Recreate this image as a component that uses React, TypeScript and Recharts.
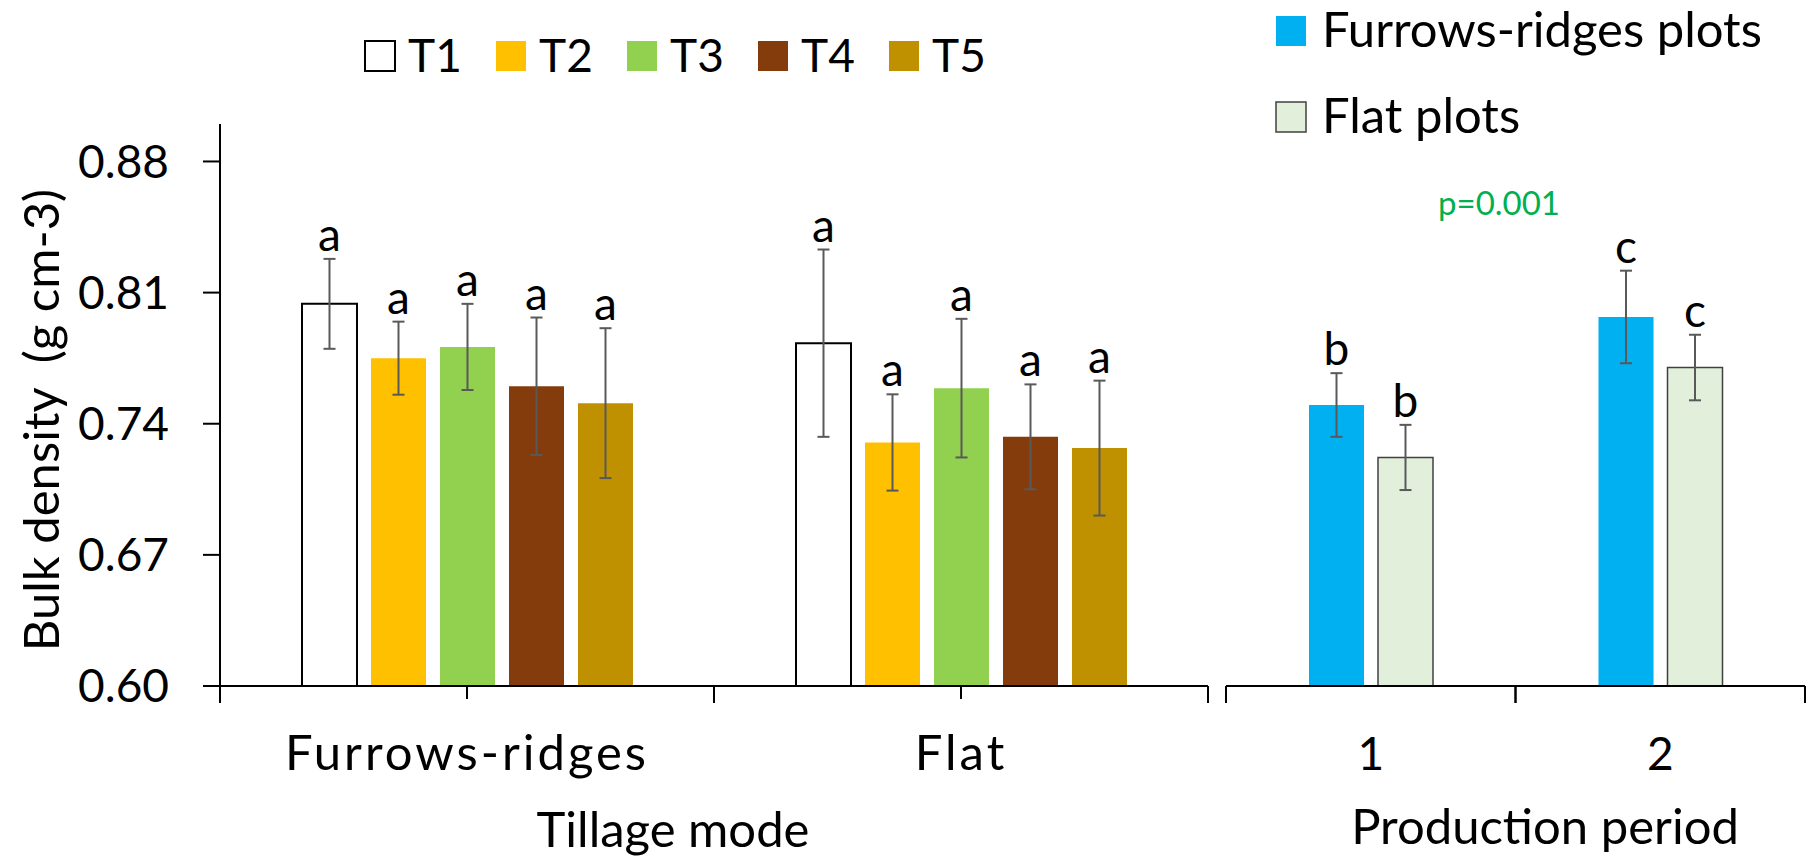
import React from 'react';
import { BarChart, Bar, XAxis, YAxis, ErrorBar, LabelList } from 'recharts';

const FONT = 'Lato, "Open Sans", sans-serif';
const ERR_INK = '#595959';
const Y_MIN = 0.6;
const Y_MAX = 0.9;
const yTicks = [0.6, 0.67, 0.74, 0.81, 0.88];

// left panel: tillage mode x treatment
const tillageModes = ['Furrows-ridges', 'Flat'];
const treatments = ['T1', 'T2', 'T3', 'T4', 'T5'];
const treatmentColors = ['#FFFFFF', '#FFC000', '#92D050', '#843C0C', '#BF9000'];
const t1Mean = [0.804, 0.783];
const t2Mean = [0.775, 0.730];
const t3Mean = [0.781, 0.759];
const t4Mean = [0.760, 0.733];
const t5Mean = [0.751, 0.727];
const t1Err = [0.024, 0.050];
const t2Err = [0.0195, 0.0257];
const t3Err = [0.023, 0.037];
const t4Err = [0.0367, 0.028];
const t5Err = [0.040, 0.036];
const tillageLetters = ['a', 'a'];

// right panel: production period
const periods = ['1', '2'];
const plotTypes = ['Furrows-ridges plots', 'Flat plots'];
const plotColors = ['#00B0F0', '#E2EFDA'];
const furrowMean = [0.750, 0.797];
const furrowErr = [0.017, 0.0247];
const flatMean = [0.722, 0.770];
const flatErr = [0.0174, 0.0175];
const furrowLetters = ['b', 'c'];
const flatLetters = ['b', 'c'];
const pValue = 'p=0.001';

const tMeans = [t1Mean, t2Mean, t3Mean, t4Mean, t5Mean];
const tErrs = [t1Err, t2Err, t3Err, t4Err, t5Err];

const tillageData = tillageModes.map((mode, i) => {
  const row: Record<string, any> = { mode };
  treatments.forEach((_, k) => {
    row[`t${k + 1}`] = tMeans[k][i];
    row[`t${k + 1}Err`] = tErrs[k][i];
  });
  return row;
});

const periodData = periods.map((period, i) => ({
  period,
  furrow: furrowMean[i],
  furrowErr: furrowErr[i],
  flat: flatMean[i],
  flatErr: flatErr[i],
}));

const LEFT_W = 1214;
const LEFT_PLOT_W = 988;
const RIGHT_X = 1216;
const RIGHT_W = 598;
const RIGHT_PLOT_W = 579;
const FS_NUM = 46; // digits, letters
const FS_TXT = 49; // words

const Letter = (props: any) => {
  const vb = props.viewBox ?? props;
  const { x, y, width, height } = vb;
  const { value, index, errs, letters } = props;
  const pxPerUnit = height / (value - Y_MIN);
  const top = y - errs[index] * pxPerUnit;
  return (
    <text x={x + width / 2} y={top - 8} textAnchor="middle" fontSize={FS_NUM} fontFamily={FONT} fill="#000">
      {letters[index]}
    </text>
  );
};

const TillageTick = (props: any) => {
  const { x, y, payload } = props;
  const half = LEFT_PLOT_W / tillageModes.length / 2;
  return (
    <g>
      <line x1={x} y1={y} x2={x} y2={y + 13} stroke="#000" strokeWidth={2} />
      <line x1={x - half} y1={y} x2={x - half} y2={y + 17} stroke="#000" strokeWidth={2} />
      <line x1={x + half} y1={y} x2={x + half} y2={y + 17} stroke="#000" strokeWidth={2} />
      <text x={x} y={y + 84} textAnchor="middle" fontSize={FS_TXT} fontFamily={FONT} fill="#000" letterSpacing={3}>
        {payload.value}
      </text>
    </g>
  );
};

const PeriodTick = (props: any) => {
  const { x, y, payload } = props;
  const half = RIGHT_PLOT_W / periods.length / 2;
  return (
    <g>
      <line x1={x - half} y1={y} x2={x - half} y2={y + 17} stroke="#000" strokeWidth={2} />
      <line x1={x + half} y1={y} x2={x + half} y2={y + 17} stroke="#000" strokeWidth={2} />
      <text x={x} y={y + 84} textAnchor="middle" fontSize={FS_NUM} fontFamily={FONT} fill="#000">
        {payload.value}
      </text>
    </g>
  );
};

export default function App() {
  return (
    <div style={{ position: 'absolute', left: 0, top: 0, width: 1814, height: 858, background: '#fff', fontFamily: FONT }}>
      <div style={{ position: 'absolute', left: 0, top: 0 }}>
        <BarChart
          width={LEFT_W}
          height={858}
          data={tillageData}
          margin={{ top: 124, right: 6, bottom: 142, left: 0 }}
          barGap={14}
          barSize={55}
        >
          <YAxis
            type="number"
            width={220}
            domain={[Y_MIN, Y_MAX]}
            ticks={yTicks}
            allowDataOverflow
            tickFormatter={(v: number) => v.toFixed(2)}
            tick={{ fontSize: FS_NUM, fill: '#000', fontFamily: FONT }}
            tickSize={17}
            tickMargin={34}
            axisLine={{ stroke: '#000', strokeWidth: 2 }}
            tickLine={{ stroke: '#000', strokeWidth: 2 }}
          />
          <XAxis
            dataKey="mode"
            height={30}
            interval={0}
            tickSize={0}
            tickMargin={0}
            tickLine={false}
            axisLine={{ stroke: '#000', strokeWidth: 2 }}
            tick={(p: any) => <TillageTick {...p} />}
          />
          {treatments.map((t, k) => (
            <Bar
              key={t}
              name={t}
              dataKey={`t${k + 1}`}
              fill={treatmentColors[k]}
              stroke={k === 0 ? '#000' : 'none'}
              strokeWidth={2}
              isAnimationActive={false}
            >
              <ErrorBar dataKey={`t${k + 1}Err`} width={6} stroke={ERR_INK} strokeWidth={2} isAnimationActive={false} />
              <LabelList
                dataKey={`t${k + 1}`}
                content={(p: any) => <Letter {...p} errs={tErrs[k]} letters={tillageLetters} />}
              />
            </Bar>
          ))}
        </BarChart>
      </div>

      <div style={{ position: 'absolute', left: RIGHT_X, top: 0 }}>
        <BarChart
          width={RIGHT_W}
          height={858}
          data={periodData}
          margin={{ top: 124, right: 9, bottom: 142, left: 10 }}
          barGap={14}
          barSize={55}
        >
          <YAxis hide type="number" domain={[Y_MIN, Y_MAX]} allowDataOverflow />
          <XAxis
            dataKey="period"
            height={30}
            interval={0}
            tickSize={0}
            tickMargin={0}
            tickLine={false}
            axisLine={{ stroke: '#000', strokeWidth: 2 }}
            tick={(p: any) => <PeriodTick {...p} />}
          />
          <Bar dataKey="furrow" name={plotTypes[0]} fill={plotColors[0]} isAnimationActive={false}>
            <ErrorBar dataKey="furrowErr" width={6} stroke={ERR_INK} strokeWidth={2} isAnimationActive={false} />
            <LabelList dataKey="furrow" content={(p: any) => <Letter {...p} errs={furrowErr} letters={furrowLetters} />} />
          </Bar>
          <Bar dataKey="flat" name={plotTypes[1]} fill={plotColors[1]} stroke="#404040" strokeWidth={1.5} isAnimationActive={false}>
            <ErrorBar dataKey="flatErr" width={6} stroke={ERR_INK} strokeWidth={2} isAnimationActive={false} />
            <LabelList dataKey="flat" content={(p: any) => <Letter {...p} errs={flatErr} letters={flatLetters} />} />
          </Bar>
        </BarChart>
      </div>

      <svg width={1814} height={858} style={{ position: 'absolute', left: 0, top: 0, pointerEvents: 'none' }}>
        {treatments.map((t, k) => (
          <g key={t}>
            <rect
              x={365 + 131 * k}
              y={41}
              width={30}
              height={30}
              fill={treatmentColors[k]}
              stroke={k === 0 ? '#000' : 'none'}
              strokeWidth={2}
            />
            <text x={408 + 131 * k} y={72} fontSize={FS_NUM} fontFamily={FONT} fill="#000">
              {t}
            </text>
          </g>
        ))}
        {plotTypes.map((name, k) => (
          <g key={name}>
            <rect
              x={1276}
              y={16 + 86 * k}
              width={30}
              height={30}
              fill={plotColors[k]}
              stroke={k === 1 ? '#404040' : 'none'}
              strokeWidth={1.5}
            />
            <text x={1322} y={47 + 86 * k} fontSize={FS_TXT} fontFamily={FONT} fill="#000">
              {name}
            </text>
          </g>
        ))}
        <text x={1499} y={215} textAnchor="middle" fontSize={33} fontFamily={FONT} fill="#00B050">
          {pValue}
        </text>
        <text x={673} y={847} textAnchor="middle" fontSize={FS_TXT} fontFamily={FONT} fill="#000">
          Tillage mode
        </text>
        <text x={1545} y={844} textAnchor="middle" fontSize={FS_TXT} fontFamily={FONT} fill="#000">
          Production period
        </text>
        <text
          x={40}
          y={420}
          transform="rotate(-90 40 420)"
          textAnchor="middle"
          dominantBaseline="central"
          fontSize={FS_TXT}
          fontFamily={FONT}
          fill="#000"
          style={{ whiteSpace: 'pre' }}
        >
          Bulk density  (g cm-3)
        </text>
      </svg>
    </div>
  );
}
